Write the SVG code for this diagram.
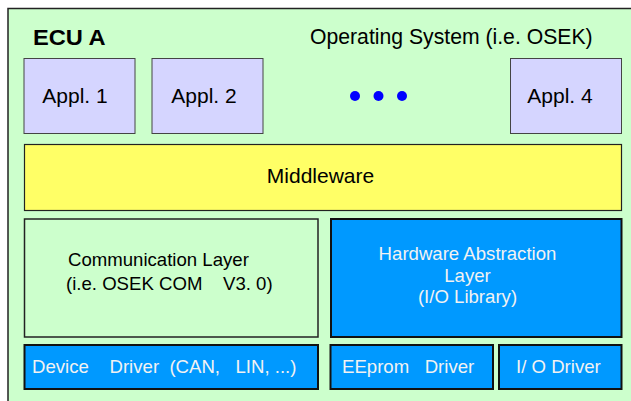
<svg xmlns="http://www.w3.org/2000/svg" width="631" height="401" viewBox="0 0 631 401">
<style>
.t{font-family:"Liberation Sans",Arial,sans-serif;fill:#000}
.w{font-family:"Liberation Sans",Arial,sans-serif;fill:#F2F2F2}
.box{stroke:#222;stroke-width:1.5}
.appl{fill:#D5D5FF;stroke:#444;stroke-width:1}
.blue{fill:#0099FF;stroke:#111;stroke-width:2}
</style>
<rect x="0" y="0" width="631" height="401" fill="#fff"/>
<g id="ecu">
<rect x="8" y="8.5" width="640" height="420" fill="#CCFFCC" stroke="#222" stroke-width="1.5"/>
<text class="t" font-size="21.5" font-weight="bold" transform="translate(33,45) scale(1.1,1)">ECU A</text>
<text class="t" x="310" y="44" font-size="21.2">Operating System (i.e. OSEK)</text>
</g>
<g id="appl1">
<rect class="appl" x="24" y="58.5" width="111" height="75"/>
<text class="t" x="75" y="103" font-size="21" text-anchor="middle">Appl. 1</text>
</g>
<g id="appl2">
<rect class="appl" x="152" y="58.5" width="111" height="75"/>
<text class="t" x="204" y="103" font-size="21" text-anchor="middle">Appl. 2</text>
</g>
<g id="dots" fill="#0000FF">
<circle cx="355" cy="96" r="5"/>
<circle cx="378.5" cy="96" r="5"/>
<circle cx="402" cy="96" r="5"/>
</g>
<g id="appl4">
<rect class="appl" x="510.5" y="58.5" width="111" height="75"/>
<text class="t" x="560" y="103" font-size="21" text-anchor="middle">Appl. 4</text>
</g>
<g id="middleware">
<rect x="24.5" y="144.5" width="597" height="66" fill="#FFFF66" stroke="#222" stroke-width="1.2"/>
<text class="t" x="320.5" y="183" font-size="21" text-anchor="middle">Middleware</text>
</g>
<g id="comm">
<rect x="24.5" y="219" width="293.5" height="118" fill="#CCFFCC" class="box"/>
<text class="t" x="68" y="266" font-size="18.6">Communication Layer</text>
<text class="t" x="66" y="290" font-size="18.6" xml:space="preserve">(i.e. OSEK COM    V3. 0)</text>
</g>
<g id="hal">
<rect x="331" y="219" width="290.5" height="118" class="blue"/>
<text class="w" x="467.5" y="260" font-size="18.6" text-anchor="middle">Hardware Abstraction</text>
<text class="w" x="467.5" y="282" font-size="18.6" text-anchor="middle">Layer</text>
<text class="w" x="467.5" y="303" font-size="18.6" text-anchor="middle">(I/O Library)</text>
</g>
<g id="device">
<rect x="24.5" y="345" width="293.5" height="44" class="blue"/>
<text class="w" x="32" y="373" font-size="18.6" xml:space="preserve">Device    Driver  (CAN,   LIN, ...)</text>
</g>
<g id="eeprom">
<rect x="330.5" y="345" width="162.5" height="44" class="blue"/>
<text class="w" x="342" y="373" font-size="18.6" xml:space="preserve">EEprom   Driver</text>
</g>
<g id="io">
<rect x="499" y="345" width="122.5" height="44" class="blue"/>
<text class="w" x="516" y="373" font-size="18.6" xml:space="preserve">I/ O Driver</text>
</g>
<g id="connectors"/>
</svg>
